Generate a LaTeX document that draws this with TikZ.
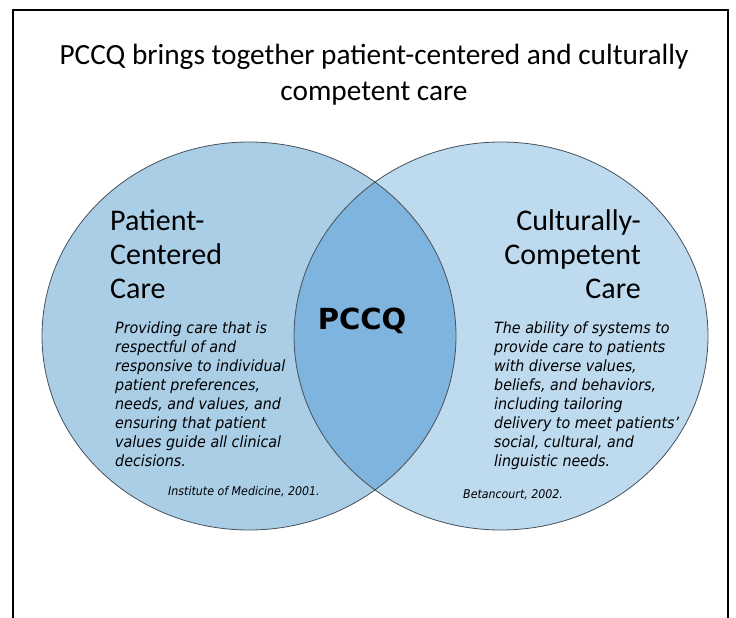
\documentclass[tikz,border=0pt]{standalone}
\usepackage{fontspec}
\setmainfont{Carlito}
\newfontfamily\bodyfont[FakeStretch=0.92]{DejaVu Sans}
\newfontfamily\pcfont{DejaVu Sans}
\definecolor{leftc}{RGB}{171,206,231}
\definecolor{rightc}{RGB}{190,218,238}
\definecolor{lensc}{RGB}{126,180,221}
\definecolor{edgec}{RGB}{70,80,90}
\begin{document}
\begin{tikzpicture}[x=1pt,y=-1pt,
  circ/.style={draw=edgec,line width=0.8pt},
  title/.style={font=\fontsize{29.3}{35}\selectfont,align=center,inner sep=0},
  head/.style={font=\fontsize{30}{35}\selectfont,inner sep=0},
  body/.style={font=\bodyfont\itshape\fontsize{15.5}{19}\selectfont,align=left,inner sep=0,anchor=north west},
  cite/.style={font=\bodyfont\itshape\fontsize{12}{14}\selectfont,inner sep=0,anchor=base west}]
\useasboundingbox (0,0) rectangle (736,618);
% frame
\draw[line width=2pt] (13,618) -- (13,10) -- (728,10) -- (728,618);
% circles
\coordinate (lc) at (249,336);
\coordinate (rc) at (501,336);
\fill[leftc] (lc) ellipse [x radius=207, y radius=194];
\fill[rightc] (rc) ellipse [x radius=207, y radius=194];
\begin{scope}
  \clip (lc) ellipse [x radius=207, y radius=194];
  \fill[lensc] (rc) ellipse [x radius=207, y radius=194];
\end{scope}
\draw[circ] (lc) ellipse [x radius=207, y radius=194];
\draw[circ] (rc) ellipse [x radius=207, y radius=194];
% title
\node[title,anchor=base] (t1) at (374,65) {PCCQ brings together patient-centered and culturally};
\node[title,anchor=base] (t2) at (374,100) {competent care};
% headings
\node[head,anchor=base west] (l1) at (110,230) {Patient-};
\node[head,anchor=base west] (l2) at (110,264) {Centered};
\node[head,anchor=base west] (l3) at (110,298) {Care};
\node[head,anchor=base east] (r1) at (641,230) {Culturally-};
\node[head,anchor=base east] (r2) at (641,264) {Competent};
\node[head,anchor=base east] (r3) at (641,298) {Care};
% center
\node[font=\pcfont\bfseries\fontsize{29}{32}\selectfont,inner sep=0,anchor=base] (pc) at (362,329) {PCCQ};
% body texts
\node[body] (lt) at (115,322) {Providing care that is\\respectful of and\\responsive to individual\\patient preferences,\\needs, and values, and\\ensuring that patient\\values guide all clinical\\decisions.};
\node[body] (rt) at (494,322) {The ability of systems to\\provide care to patients\\with diverse values,\\beliefs, and behaviors,\\including tailoring\\delivery to meet patients’\\social, cultural, and\\linguistic needs.};
\node[cite] (lcite) at (168,495) {Institute of Medicine, 2001.};
\node[cite] (rcite) at (463,498) {Betancourt, 2002.};
\end{tikzpicture}
\end{document}
